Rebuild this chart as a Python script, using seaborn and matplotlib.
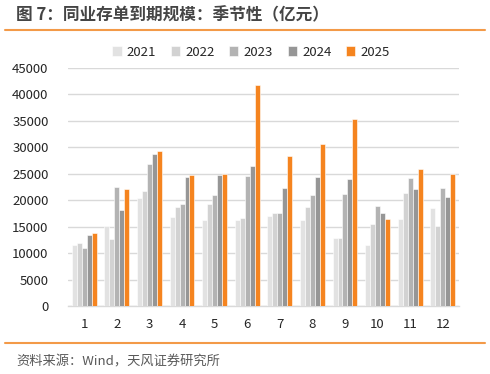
import numpy as np
import pandas as pd
import matplotlib
matplotlib.use("Agg")
import matplotlib.pyplot as plt
from matplotlib.lines import Line2D
import seaborn as sns

months = ["1", "2", "3", "4", "5", "6", "7", "8", "9", "10", "11", "12"]
years = ["2021", "2022", "2023", "2024", "2025"]
v2021 = [11600, 15100, 20500, 16900, 16300, 16300, 17000, 16250, 12900, 11600, 16500, 18500]
v2022 = [11850, 12600, 21650, 18700, 19250, 16700, 17550, 18750, 12900, 15550, 21350, 15200]
v2023 = [10950, 22550, 26900, 19200, 20950, 24600, 17550, 20950, 21100, 18900, 24200, 22250]
v2024 = [13350, 18150, 28700, 24350, 24750, 26450, 22350, 24350, 24100, 17550, 22100, 20550]
v2025 = [13800, 22100, 29400, 24750, 24900, 41700, 28400, 30650, 35400, 16500, 25850, 24950]
colors = ["#e2e2e2", "#d2d2d2", "#b3b3b3", "#969696", "#f5841f"]

rows = []
for y, vals in zip(years, [v2021, v2022, v2023, v2024, v2025]):
    for m, v in zip(months, vals):
        rows.append({"month": m, "year": y, "value": v})
df = pd.DataFrame(rows)

sns.set_theme(style="white")
plt.rcParams['font.family'] = ['Noto Sans CJK SC', 'DejaVu Sans']

fig = plt.figure(figsize=(4.9, 3.74), dpi=100)
ax = fig.add_axes([68/490, 1-306/374, (459-68)/490, (306-68)/374])

sns.barplot(data=df, x="month", y="value", hue="year", order=months, hue_order=years,
            palette=colors, saturation=1, width=0.76, edgecolor="white", linewidth=0.4,
            ax=ax, legend=True, zorder=3)

ax.set_ylim(0, 45000)
ax.set_yticks(np.arange(0, 45001, 5000))
ax.set_xlim(-0.5, 11.5)
ax.grid(axis="y", color="#d9d9d9", linewidth=1, zorder=0)
ax.set_axisbelow(True)
for s in ["top", "right", "left"]:
    ax.spines[s].set_visible(False)
ax.spines["bottom"].set_color("#d9d9d9")
ax.spines["bottom"].set_linewidth(1)
ax.set_xlabel("")
ax.set_ylabel("")
ax.tick_params(axis="both", length=0, labelsize=9.5, colors="#262626")
ax.tick_params(axis="y", pad=14)
ax.tick_params(axis="x", pad=9)

handles, labels = ax.get_legend_handles_labels()
ax.get_legend().remove()
fig.legend(handles, labels, loc="center", bbox_to_anchor=(251/490, 1-52/374), ncol=5,
           frameon=False, fontsize=9.5, handlelength=0.7, handleheight=0.7,
           handletextpad=0.4, columnspacing=1.1, labelcolor="#262626")

fig.text(16/490, 1-15/374, "图 7：同业存单到期规模：季节性（亿元）", fontsize=12,
         fontweight="bold", color="#454545", va="center", ha="left")
fig.add_artist(Line2D([5/490, 485/490], [1-30/374, 1-30/374], color="#f39a48",
                      linewidth=1.5, transform=fig.transFigure))
fig.add_artist(Line2D([5/490, 485/490], [1-343/374, 1-343/374], color="#f39a48",
                      linewidth=1.5, transform=fig.transFigure))
fig.text(16/490, 1-362/374, "资料来源：Wind，天风证券研究所", fontsize=9.5,
         color="#595959", va="center", ha="left")

fig.savefig("out.png", dpi=100)
